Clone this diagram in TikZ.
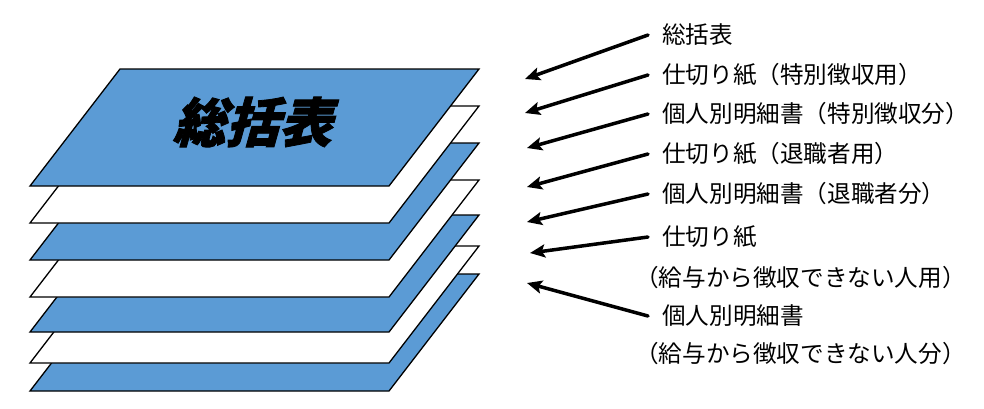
\documentclass[tikz,border=0pt]{standalone}
\usepackage{fontspec}
\newfontfamily\cjk{Noto Sans CJK JP}
\newfontfamily\cjktitle[FakeSlant=0.28,FakeBold=1.5]{Noto Sans CJK JP}
\usetikzlibrary{arrows.meta}
\definecolor{sheetblue}{HTML}{5B9BD5}
\tikzset{
  sheet/.style={draw=black, line width=1.3pt, line join=miter},
  bluesheet/.style={sheet, fill=sheetblue},
  whitesheet/.style={sheet, fill=white},
  lbl/.style={font=\cjk\fontsize{23.6}{28}\selectfont, anchor=west, inner sep=0pt},
  ptr/.style={line width=3.5pt, line cap=round, -{Stealth[length=15pt,width=13pt,inset=3pt]}},
  titletext/.style={font=\cjktitle\bfseries\fontsize{53}{60}\selectfont, inner sep=0pt}
}
\begin{document}
\begin{tikzpicture}[x=1pt, y=-1pt]
\useasboundingbox (0,0) rectangle (984,408);
% sheets, bottom to top
\foreach \b/\st in {391/bluesheet, 363/whitesheet, 332/bluesheet, 297/whitesheet, 260/bluesheet, 223/whitesheet, 186/bluesheet}{
  \draw[\st] (30,\b) -- (389,\b) -- (479,\b-117) -- (120,\b-117) -- cycle;
}
\node[titletext] (title) at (252,122) {総括表};
% labels
\node[lbl] (l1) at (662,35) {総括表};
\node[lbl] (l2) at (662,75) {仕切り紙（特別徴収用）};
\node[lbl] (l3) at (662,114) {個人別明細書（特別徴収分）};
\node[lbl] (l4) at (662,154) {仕切り紙（退職者用）};
\node[lbl] (l5) at (662,194) {個人別明細書（退職者分）};
\node[lbl] (l6) at (662,237) {仕切り紙};
\node[lbl] (l6b) at (635,278) {（給与から徴収できない人用）};
\node[lbl] (l7) at (662,316) {個人別明細書};
\node[lbl] (l7b) at (635,354) {（給与から徴収できない人分）};
% arrow targets
\coordinate (h1) at (525,79);
\coordinate (h2) at (525,113);
\coordinate (h3) at (527,148);
\coordinate (h4) at (527,187);
\coordinate (h5) at (527,222);
\coordinate (h6) at (530,253);
\coordinate (h7) at (527,283);
\foreach \i in {1,...,7}{
  \draw[ptr] ([xshift=-14pt]l\i.west) -- (h\i);
}
\end{tikzpicture}
\end{document}
